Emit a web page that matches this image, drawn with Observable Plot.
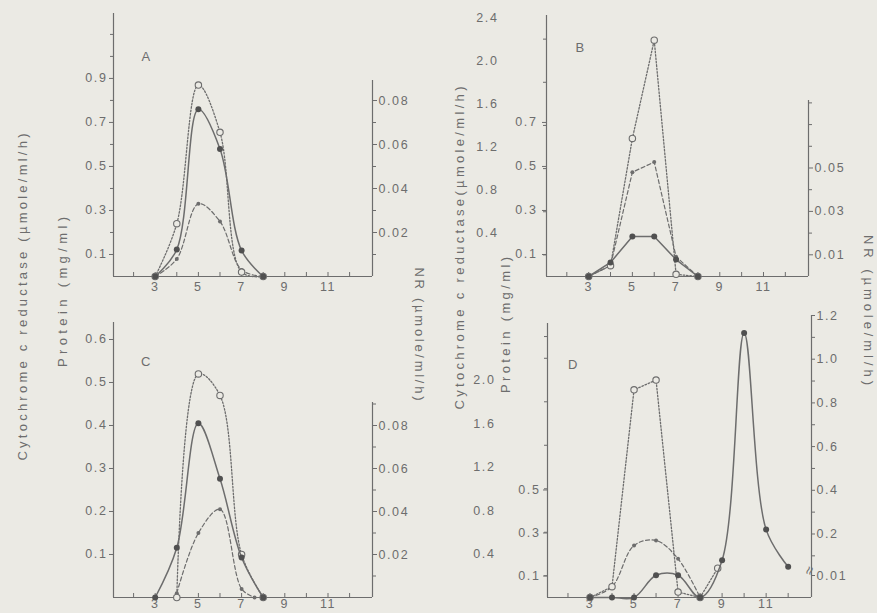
<!DOCTYPE html>
<html><head><meta charset="utf-8">
<script src="https://cdn.jsdelivr.net/npm/d3@7"></script>
<script src="https://cdn.jsdelivr.net/npm/@observablehq/plot@0.6"></script>
<style>
html,body{margin:0;padding:0;background:#ebeae4;}
#fig{position:relative;width:877px;height:613px;overflow:hidden;background:#ebeae4;}
#fig svg{position:absolute;left:0;top:0;}
#fig svg.layer text{letter-spacing:1.6px;}
</style></head><body><div id="fig"></div>
<script>
// ---------- data ----------
const xTickLabels = [3, 5, 7, 9, 11];
const xMinorTicks = [2, 3, 4, 5, 6, 7, 8, 9, 10, 11, 12];

// Panel A
const aX = [3, 4, 5, 6, 7, 8];
const aCyt = [0, 0.24, 0.87, 0.655, 0.02, 0];
const aProtein = [0, 0.08, 0.33, 0.25, 0.03, 0];
const aNR = [0, 0.0123, 0.076, 0.058, 0.0118, 0];
const aLeftTicks = [0.1, 0.3, 0.5, 0.7, 0.9];
const aLeftMinor = [0.2, 0.4, 0.6, 0.8, 1.0, 1.1];
const aRightTicks = [0.02, 0.04, 0.06, 0.08];
const aRightMinor = [0.01, 0.03, 0.05, 0.07];

// Panel B
const bX = [3, 4, 5, 6, 7, 8];
const bCyt = [0, 0.1, 1.28, 2.19, 0.02, 0];
const bProtein = [0, 0.05, 0.474, 0.52, 0.09, 0];
const bNR = [0, 0.0065, 0.0184, 0.0184, 0.0078, 0];
const bCytTicks = [0.4, 0.8, 1.2, 1.6, 2.0, 2.4];
const bCytMinor = [0.2, 0.6, 1.0, 1.4, 1.8, 2.2];
const bProteinTicks = [0.1, 0.3, 0.5, 0.7];
const bRightTicks = [0.01, 0.03, 0.05];
const bRightMinor = [0.02, 0.04, 0.06, 0.07, 0.08];

// Panel C
const cCytX = [4, 5, 6, 7, 8];
const cCyt = [0, 0.52, 0.47, 0.1, 0];
const cProteinX = [4, 5, 6, 7, 7.6];
const cProtein = [0.01, 0.15, 0.205, 0.02, 0];
const cNRX = [3, 4, 5, 6, 7, 8];
const cNR = [0, 0.0231, 0.081, 0.0552, 0.0186, 0];
const cLeftTicks = [0.1, 0.2, 0.3, 0.4, 0.5, 0.6];
const cRightTicks = [0.02, 0.04, 0.06, 0.08];
const cRightMinor = [0.01, 0.03, 0.05, 0.07, 0.09];

// Panel D
const dCytX = [3, 4, 5, 6, 7, 8, 8.8];
const dCyt = [0, 0.1, 1.91, 2.0, 0.05, 0, 0.27];
const dProteinX = [3, 4, 5, 6, 7, 8];
const dProtein = [0, 0.05, 0.242, 0.265, 0.18, 0];
const dNRX = [3, 4, 5, 6, 7, 8, 9, 10, 11, 12];
const dNR = [0, 0, 0, 0.011, 0.011, 0, 0.08, 1.12, 0.22, 0.05];
const dCytTicks = [0.4, 0.8, 1.2, 1.6, 2.0];
const dCytMinor = [0.2, 0.6, 1.0, 1.4, 1.8, 2.2, 2.4];
const dProteinTicks = [0.1, 0.3, 0.5];
const dRightTicks = [0.01, 0.2, 0.4, 0.6, 0.8, 1.0, 1.2];
const dRightMinor = [0.1, 0.3, 0.5, 0.7, 0.9, 1.1];

// ---------- drawing ----------
const fig = document.getElementById("fig");
const W = 877, H = 613;
const BG = "#ebeae4", INK = "#6d6d6d", DARK = "#505050";
const XDOM = [1.07, 13.06];
const FONT = "'Liberation Sans', Arial, Helvetica, sans-serif";

function rows(xs, ys) { return xs.map((x, i) => ({x, y: ys[i]})); }

function cytMarks(xs, ys, curve) {
  const d = rows(xs, ys);
  return [
    Plot.line(d, {x: "x", y: "y", curve, stroke: INK, strokeWidth: 1.3, strokeDasharray: "1.6,1.8"}),
    Plot.dot(d, {x: "x", y: "y", r: 3.2, fill: BG, stroke: INK, strokeWidth: 1.1})
  ];
}
function proteinMarks(xs, ys, curve) {
  const d = rows(xs, ys);
  return [
    Plot.line(d, {x: "x", y: "y", curve, stroke: INK, strokeWidth: 1.2, strokeDasharray: "4,2.5"}),
    Plot.dot(d, {x: "x", y: "y", r: 2, fill: INK})
  ];
}
function nrMarks(xs, ys, curve) {
  const d = rows(xs, ys);
  return [
    Plot.line(d, {x: "x", y: "y", curve, stroke: INK, strokeWidth: 1.5}),
    Plot.dot(d, {x: "x", y: "y", r: 3, fill: DARK})
  ];
}
function xAxisMarks(t, b, pad) {
  return [
    Plot.ruleY([0], {stroke: INK, strokeWidth: 1.2}),
    Plot.ruleX([XDOM[0]], {stroke: INK, strokeWidth: 1.2}),
    Plot.tickX(xMinorTicks, {x: d => d, insetTop: (b - t) - 4, stroke: INK}),
    Plot.axisX({ticks: xTickLabels, anchor: "bottom", tickSize: 0, tickPadding: pad, label: null})
  ];
}
function leftAxis(ticks, fmt, tickSize, tickPadding) {
  return Plot.axisY({ticks, anchor: "left", tickSize, tickPadding, tickFormat: fmt, label: null, stroke: INK});
}
function rightAxis(ticks, fmt, tickSize, tickPadding) {
  return Plot.axisY({ticks, anchor: "right", tickSize, tickPadding, tickFormat: fmt, label: null, stroke: INK});
}
const blank = () => "";
const f1 = d3.format(".1f"), f2 = d3.format(".2f");

function layer({l, r, t, b, y, marks}) {
  const svg = Plot.plot({
    width: W, height: H,
    marginLeft: l, marginRight: W - r, marginTop: t, marginBottom: H - b,
    x: {domain: XDOM, axis: null, label: null},
    y: {type: "linear", ...y, axis: null, label: null},
    style: {background: "transparent", color: INK, fontFamily: FONT, fontSize: "12.5px", overflow: "visible"},
    marks
  });
  svg.classList.add("layer");
  fig.append(svg);
}
function letter(ch, x, y) {
  return Plot.text([ch], {x: () => x, y: () => y, text: d => d, fontSize: 13, fill: INK});
}

// Panel A
layer({l: 113, r: 372, t: 13, b: 276, y: {domain: [0, 1.195]}, marks: [
  ...xAxisMarks(13, 276, 6),
  leftAxis(aLeftTicks, f1, 4, 2),
  leftAxis(aLeftMinor, blank, 3, 0),
  ...proteinMarks(aX, aProtein, "catmull-rom"),
  ...cytMarks(aX, aCyt, "catmull-rom"),
  letter("A", 2.6, 1.0)
]});
layer({l: 113, r: 372, t: 80, b: 276, y: {domain: [0, 0.0891]}, marks: [
  Plot.ruleX([XDOM[1]], {stroke: INK, strokeWidth: 1.2}),
  rightAxis(aRightTicks, f2, 4, 2),
  rightAxis(aRightMinor, blank, 3, 0),
  ...nrMarks(aX, aNR, "catmull-rom")
]});

// Panel B
layer({l: 546, r: 808, t: 15, b: 276, y: {domain: [0, 1.186]}, marks: [
  ...xAxisMarks(15, 276, 6),
  leftAxis(bProteinTicks, f1, 4, 5),
  ...proteinMarks(bX, bProtein, "linear"),
  letter("B", 2.63, 1.04)
]});
layer({l: 546, r: 808, t: 15, b: 276, y: {domain: [0, 2.419]}, marks: [
  leftAxis(bCytTicks, f1, 0, 48),
  leftAxis(bCytMinor, blank, 3, 0),
  ...cytMarks(bX, bCyt, "linear")
]});
layer({l: 546, r: 808, t: 100, b: 276, y: {domain: [0, 0.0811]}, marks: [
  Plot.ruleX([XDOM[1]], {stroke: INK, strokeWidth: 1.2}),
  rightAxis(bRightTicks, f2, 4, 2),
  rightAxis(bRightMinor, blank, 3, 0),
  ...nrMarks(bX, bNR, "linear")
]});

// Panel C
layer({l: 113, r: 372, t: 322, b: 597, y: {domain: [0, 0.6395]}, marks: [
  ...xAxisMarks(322, 597, 2),
  leftAxis(cLeftTicks, f1, 4, 2),
  ...proteinMarks(cProteinX, cProtein, "catmull-rom"),
  ...cytMarks(cCytX, cCyt, "catmull-rom"),
  letter("C", 2.6, 0.547)
]});
layer({l: 113, r: 372, t: 402, b: 597, y: {domain: [0, 0.0907]}, marks: [
  Plot.ruleX([XDOM[1]], {stroke: INK, strokeWidth: 1.2}),
  rightAxis(cRightTicks, f2, 4, 2),
  rightAxis(cRightMinor, blank, 3, 0),
  ...nrMarks(cNRX, cNR, "catmull-rom")
]});

// Panel D
layer({l: 547, r: 811, t: 323, b: 597, y: {domain: [0, 1.274]}, marks: [
  ...xAxisMarks(323, 597, 2),
  leftAxis(dProteinTicks, f1, 4, 3),
  ...proteinMarks(dProteinX, dProtein, "catmull-rom"),
  letter("D", 2.25, 1.08)
]});
layer({l: 547, r: 811, t: 323, b: 597, y: {domain: [0, 2.52]}, marks: [
  leftAxis(dCytTicks, f1, 0, 52),
  leftAxis(dCytMinor, blank, 3, 0),
  ...cytMarks(dCytX, dCyt, "linear")
]});
layer({l: 547, r: 811, t: 315, b: 597, y: {domain: [0, 0.01, 1.2], range: [597, 575, 315]}, marks: [
  Plot.ruleX([XDOM[1]], {stroke: INK, strokeWidth: 1.2}),
  rightAxis(dRightTicks, d => d < 0.1 ? f2(d) : f1(d), 3, 2),
  rightAxis(dRightMinor, blank, 3, 0),
  Plot.text(["≈"], {frameAnchor: "right", y: () => 0.056, text: d => d, rotate: -70, fontSize: 15, fill: INK}),
  ...nrMarks(dNRX, dNR, "catmull-rom")
]});

// ---------- axis titles ----------
const ns = "http://www.w3.org/2000/svg";
const tsvg = document.createElementNS(ns, "svg");
tsvg.setAttribute("width", W); tsvg.setAttribute("height", H);
fig.append(tsvg);
function title(str, cx, cy, len, rot) {
  const t = document.createElementNS(ns, "text");
  t.setAttribute("transform", `translate(${cx},${cy}) rotate(${rot})`);
  t.setAttribute("text-anchor", "middle");
  t.setAttribute("dominant-baseline", "central");
  t.setAttribute("textLength", len);
  t.setAttribute("lengthAdjust", "spacing");
  t.setAttribute("font-family", FONT);
  t.setAttribute("font-size", "13");
  t.setAttribute("fill", INK);
  t.textContent = str;
  tsvg.append(t);
}
title("Cytochrome c reductase (µmole/ml/h)", 22, 297, 327, -90);
title("Protein (mg/ml)", 62, 292, 150, -90);
title("NR (µmole/ml/h)", 419, 334, 133, 90);
title("Cytochrome c reductase(µmole/ml/h)", 459, 248, 323, -90);
title("Protein (mg/ml)", 505, 325, 136, -90);
title("NR (µmole/ml/h)", 868, 310, 150, 90);
</script></body></html>
